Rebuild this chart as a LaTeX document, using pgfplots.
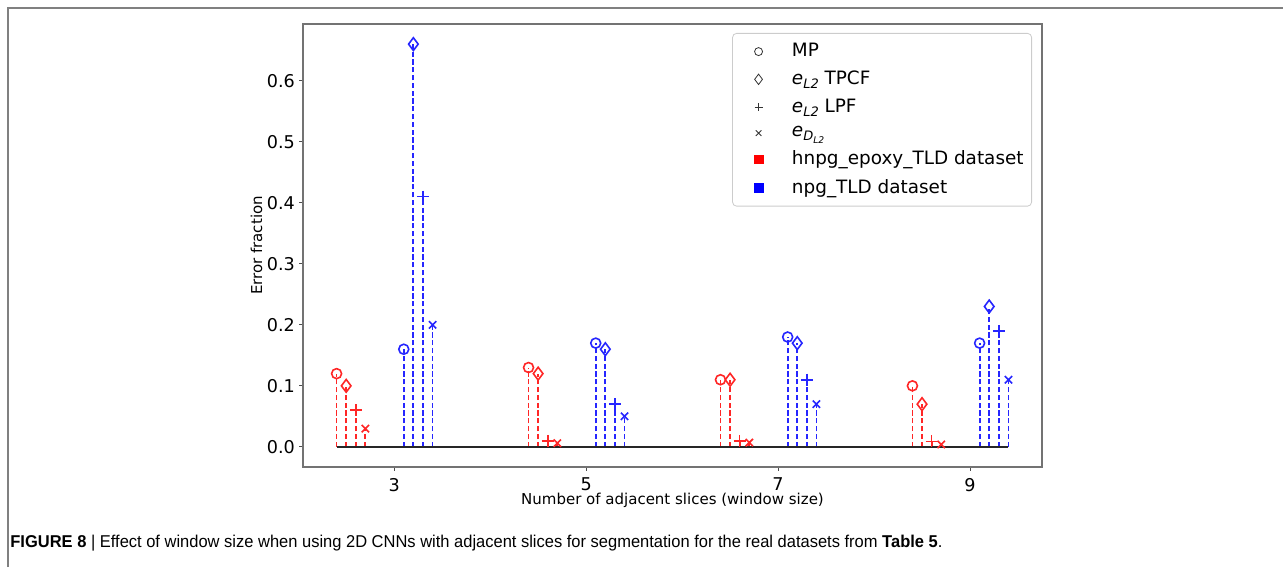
\documentclass[border=0pt]{standalone}
\usepackage{pgfplots}
\pgfplotsset{compat=1.18}
\usepackage{fontspec}
\setmainfont{DejaVu Sans}
\newfontfamily\capfont{Liberation Sans}
\definecolor{mred}{rgb}{1,0.15,0.15}
\definecolor{mblue}{rgb}{0.15,0.15,1}
\newcommand{\eLtwo}{\textit{e}\raisebox{-0.4ex}{\fontsize{6.5}{7}\selectfont\textit{L2}}}
\newcommand{\eDLtwo}{\textit{e}\raisebox{-0.4ex}{\fontsize{6.5}{7}\selectfont\textit{D}\raisebox{-0.35ex}{\fontsize{4.6}{5}\selectfont\textit{L2}}}}
\begin{document}
\begin{tikzpicture}
\useasboundingbox (0,0) rectangle (641.5pt,283.5pt);
\draw[black!50, line width=0.9pt] (4pt,0pt) -- (4pt,279.5pt) -- (641.5pt,279.5pt);
\node[anchor=west, inner sep=0pt] at (5pt,12pt) {\resizebox{466pt}{6.2pt}{\capfont\fontsize{8}{9}\selectfont\textbf{FIGURE 8} | Effect of window size when using 2D CNNs with adjacent slices for segmentation for the real datasets from \textbf{Table 5}.}};
\begin{axis}[
  at={(151.5pt,50pt)}, anchor=south west, scale only axis,
  width=369.5pt, height=221.5pt,
  xmin=2.05, xmax=9.75, ymin=-0.033, ymax=0.693,
  xtick={3,5,7,9}, ytick={0,0.1,0.2,0.3,0.4,0.5,0.6},
  xtick pos=bottom, ytick pos=left,
  tick align=outside, major tick length=2pt,
  tick style={black!70, line width=0.5pt},
  axis line style={black!55, line width=0.6pt},
  /pgf/number format/assume math mode=true,
  tick label style={font=\fontsize{8.8}{10}\selectfont},
  yticklabel style={xshift=1.5pt, /pgf/number format/.cd, fixed, fixed zerofill, precision=1},
  xlabel={Number of adjacent slices (window size)},
  ylabel={Error fraction},
  label style={font=\fontsize{7.5}{8}\selectfont},
  xlabel style={yshift=6pt},
  ylabel style={yshift=-4.5pt},
  unbounded coords=jump,
  legend style={at={(1,1)}, anchor=north east, xshift=-5pt, yshift=-4.5pt,
    draw=black!20, rounded corners=2pt, font=\fontsize{9.2}{10}\selectfont,
    row sep=1.6pt, column sep=12.5pt, inner xsep=2pt, inner ysep=3pt},
  legend image code/.code={\path[draw=none, fill=none] (-11pt,0pt) -- (2pt,0pt); \draw[#1] plot coordinates {(0pt,0pt)};},
  legend cell align=left,
  clip=false,
]
\addlegendimage{only marks, mark=o, black!80, mark size=2pt, line width=0.4pt}
\addlegendentry{MP}
\addlegendimage{only marks, mark=diamond, black!80, mark size=2.6pt, line width=0.4pt}
\addlegendentry{\eLtwo{} TPCF}
\addlegendimage{only marks, mark=+, black!80, mark size=2pt, line width=0.4pt}
\addlegendentry{\eLtwo{} LPF}
\addlegendimage{only marks, mark=x, black!80, mark size=2pt, line width=0.4pt}
\addlegendentry{\eDLtwo}
\addlegendimage{only marks, mark=square*, red, mark size=2.2pt}
\addlegendentry{hnpg\_epoxy\_TLD dataset}
\addlegendimage{only marks, mark=square*, blue, mark size=2.2pt}
\addlegendentry{npg\_TLD dataset}

\pgfplotsset{stem/.style={line width=0.9pt, dash pattern=on 2.6pt off 1.3pt, mark=none, forget plot},
  mk/.style={only marks, line width=0.8pt, forget plot}}
% red: hnpg_epoxy_TLD -- stems
\addplot[stem, mred] coordinates {(2.4,0) (2.4,0.12) (2.4,nan) (4.4,0) (4.4,0.13) (4.4,nan) (6.4,0) (6.4,0.11) (6.4,nan) (8.4,0) (8.4,0.10)};
\addplot[stem, mred] coordinates {(2.5,0) (2.5,0.10) (2.5,nan) (4.5,0) (4.5,0.12) (4.5,nan) (6.5,0) (6.5,0.11) (6.5,nan) (8.5,0) (8.5,0.07)};
\addplot[stem, mred] coordinates {(2.6,0) (2.6,0.06) (2.6,nan) (4.6,0) (4.6,0.01) (4.6,nan) (6.6,0) (6.6,0.01) (6.6,nan) (8.6,0) (8.6,0.009)};
\addplot[stem, mred] coordinates {(2.7,0) (2.7,0.03) (2.7,nan) (4.7,0) (4.7,0.006) (4.7,nan) (6.7,0) (6.7,0.007) (6.7,nan) (8.7,0) (8.7,0.004)};
% blue: npg_TLD -- stems
\addplot[stem, mblue] coordinates {(3.1,0) (3.1,0.16) (3.1,nan) (5.1,0) (5.1,0.17) (5.1,nan) (7.1,0) (7.1,0.18) (7.1,nan) (9.1,0) (9.1,0.17)};
\addplot[stem, mblue] coordinates {(3.2,0) (3.2,0.66) (3.2,nan) (5.2,0) (5.2,0.16) (5.2,nan) (7.2,0) (7.2,0.17) (7.2,nan) (9.2,0) (9.2,0.23)};
\addplot[stem, mblue] coordinates {(3.3,0) (3.3,0.41) (3.3,nan) (5.3,0) (5.3,0.07) (5.3,nan) (7.3,0) (7.3,0.11) (7.3,nan) (9.3,0) (9.3,0.19)};
\addplot[stem, mblue] coordinates {(3.4,0) (3.4,0.20) (3.4,nan) (5.4,0) (5.4,0.05) (5.4,nan) (7.4,0) (7.4,0.07) (7.4,nan) (9.4,0) (9.4,0.11)};
% baseline
\addplot[black!85, line width=0.7pt, forget plot] coordinates {(2.4,0) (9.4,0)};
% markers
\addplot[mk, mred, mark=o, mark size=2.5pt] coordinates {(2.4,0.12) (4.4,0.13) (6.4,0.11) (8.4,0.10)};
\addplot[mk, mred, mark=diamond, mark size=3.2pt] coordinates {(2.5,0.10) (4.5,0.12) (6.5,0.11) (8.5,0.07)};
\addplot[mk, mred, mark=+, mark size=3pt] coordinates {(2.6,0.06) (4.6,0.01) (6.6,0.01) (8.6,0.009)};
\addplot[mk, mred, mark=x, mark size=2.6pt] coordinates {(2.7,0.03) (4.7,0.006) (6.7,0.007) (8.7,0.004)};
\addplot[mk, mblue, mark=o, mark size=2.5pt] coordinates {(3.1,0.16) (5.1,0.17) (7.1,0.18) (9.1,0.17)};
\addplot[mk, mblue, mark=diamond, mark size=3.2pt] coordinates {(3.2,0.66) (5.2,0.16) (7.2,0.17) (9.2,0.23)};
\addplot[mk, mblue, mark=+, mark size=3pt] coordinates {(3.3,0.41) (5.3,0.07) (7.3,0.11) (9.3,0.19)};
\addplot[mk, mblue, mark=x, mark size=2.6pt] coordinates {(3.4,0.20) (5.4,0.05) (7.4,0.07) (9.4,0.11)};
\end{axis}
\end{tikzpicture}
\end{document}
